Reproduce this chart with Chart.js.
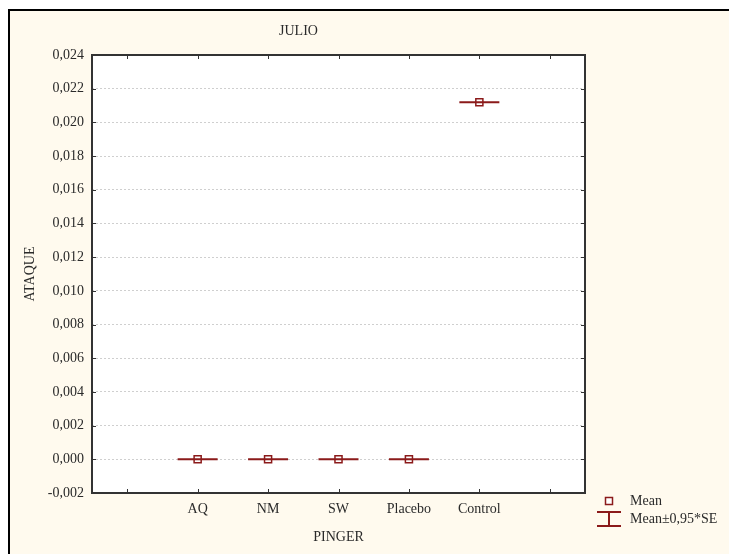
<!DOCTYPE html>
<html>
<head>
<meta charset="utf-8">
<script src="https://cdn.jsdelivr.net/npm/chart.js@4.4.1/dist/chart.umd.min.js"></script>
<style>
  html, body { margin: 0; padding: 0; background: #fff; }
  #wrap { position: relative; width: 729px; height: 554px; overflow: hidden; }
  #frame { position: absolute; left: 8px; top: 9px; width: 740px; height: 560px;
           border-left: 2px solid #000; border-top: 2px solid #000; background: #fffaee; }
  #c { position: absolute; left: 0; top: 0; }
</style>
</head>
<body>
<div id="wrap">
  <div id="frame"></div>
  <canvas id="c" width="729" height="554"></canvas>
</div>
<script>
// empty slots at both ends, as in the original
var categories = ['', 'AQ', 'NM', 'SW', 'Placebo', 'Control', ''];
var means = [null, 0, 0, 0, 0, 0.0212, null];
var errors = [null, 0, 0, 0, 0, 0, null]; // 0,95*SE
var yTicks = [-0.002, 0, 0.002, 0.004, 0.006, 0.008, 0.010, 0.012, 0.014, 0.016, 0.018, 0.020, 0.022, 0.024];

var red = '#8b1a1a';
var txt = '#2a2a2a';
var serif = 'Liberation Serif, DejaVu Serif, serif';

function fmt(v) {
  if (Math.abs(v) < 1e-9) v = 0;
  return v.toFixed(3).replace('.', ',');
}

// white plot area, frame, inward tick marks, error whiskers, legend
var extras = {
  id: 'extras',
  beforeDraw: function(chart) {
    var a = chart.chartArea, ctx = chart.ctx;
    ctx.save();
    ctx.fillStyle = '#fff';
    ctx.fillRect(a.left, a.top, a.right - a.left, a.bottom - a.top);
    ctx.restore();
  },
  afterDatasetsDraw: function(chart) {
    var ctx = chart.ctx, x = chart.scales.x, y = chart.scales.y;
    ctx.save();
    ctx.strokeStyle = red;
    ctx.lineWidth = 2;
    for (var i = 0; i < means.length; i++) {
      if (means[i] === null) continue;
      var px = x.getPixelForValue(i);
      var top = y.getPixelForValue(means[i] + errors[i]);
      var bot = y.getPixelForValue(means[i] - errors[i]);
      ctx.beginPath();
      ctx.moveTo(px, top); ctx.lineTo(px, bot);
      ctx.moveTo(px - 20, top); ctx.lineTo(px + 20, top);
      ctx.moveTo(px - 20, bot); ctx.lineTo(px + 20, bot);
      ctx.stroke();
    }
    ctx.restore();
  },
  afterDraw: function(chart) {
    var a = chart.chartArea, ctx = chart.ctx, x = chart.scales.x, y = chart.scales.y;
    ctx.save();
    ctx.strokeStyle = '#333';
    ctx.lineWidth = 2;
    ctx.strokeRect(a.left, a.top, a.right - a.left, a.bottom - a.top);
    ctx.lineWidth = 1;
    ctx.beginPath();
    for (var i = 0; i < categories.length; i++) {
      var px = Math.round(x.getPixelForValue(i)) + 0.5;
      ctx.moveTo(px, a.bottom); ctx.lineTo(px, a.bottom - 4);
      ctx.moveTo(px, a.top); ctx.lineTo(px, a.top + 4);
    }
    for (var j = 0; j < yTicks.length; j++) {
      var py = Math.round(y.getPixelForValue(yTicks[j])) + 0.5;
      ctx.moveTo(a.left, py); ctx.lineTo(a.left + 4, py);
      ctx.moveTo(a.right, py); ctx.lineTo(a.right - 4, py);
    }
    ctx.stroke();

    // legend
    var lx = 609;
    ctx.fillStyle = '#fff';
    ctx.strokeStyle = red;
    ctx.lineWidth = 1.5;
    ctx.fillRect(lx - 3.5, 497.5, 7, 7);
    ctx.strokeRect(lx - 3.5, 497.5, 7, 7);
    ctx.lineWidth = 2;
    ctx.beginPath();
    ctx.moveTo(lx - 12, 512); ctx.lineTo(lx + 12, 512);
    ctx.moveTo(lx, 512); ctx.lineTo(lx, 526);
    ctx.moveTo(lx - 12, 526); ctx.lineTo(lx + 12, 526);
    ctx.stroke();
    ctx.fillStyle = txt;
    ctx.font = '14px ' + serif;
    ctx.textBaseline = 'middle';
    ctx.textAlign = 'left';
    ctx.fillText('Mean', 630, 501);
    ctx.fillText('Mean\u00b10,95*SE', 630, 519);
    ctx.restore();
  }
};

new Chart(document.getElementById('c'), {
  type: 'line',
  data: {
    labels: categories,
    datasets: [{
      label: 'Mean',
      data: means,
      showLine: false,
      pointStyle: 'rect',
      pointRadius: 5,
      pointBorderWidth: 1.5,
      pointBorderColor: red,
      pointBackgroundColor: '#fff'
    }]
  },
  options: {
    responsive: false,
    animation: false,
    layout: { padding: { left: 12, top: 9, right: 144, bottom: 0 } },
    plugins: {
      legend: { display: false },
      tooltip: { enabled: false },
      title: {
        display: true,
        text: 'JULIO',
        color: txt,
        font: { family: serif, size: 14, weight: 'normal' },
        padding: { top: 13.6, bottom: 15.6 }
      }
    },
    scales: {
      x: {
        offset: true,
        grid: { display: false, drawTicks: false },
        border: { display: false },
        ticks: { color: txt, font: { family: serif, size: 14 }, padding: 8, maxRotation: 0, autoSkip: false },
        title: { display: true, text: 'PINGER', color: txt, font: { family: serif, size: 14 }, padding: { top: 0, bottom: 8.6 } },
        afterFit: function(s) { s.height = 61; }
      },
      y: {
        min: -0.002,
        max: 0.024,
        afterBuildTicks: function(s) { s.ticks = yTicks.map(function(v) { return { value: v }; }); },
        grid: { color: '#cfcfcf', lineWidth: 1, drawTicks: false },
        border: { display: false, dash: [2, 2] },
        ticks: { color: txt, font: { family: serif, size: 14 }, padding: 8, callback: function(v) { return fmt(v); } },
        title: { display: true, text: 'ATAQUE', color: txt, font: { family: serif, size: 14 }, padding: { top: 9.6, bottom: 0 } },
        afterFit: function(s) { s.width = 80; }
      }
    }
  },
  plugins: [extras]
});
</script>
</body>
</html>
